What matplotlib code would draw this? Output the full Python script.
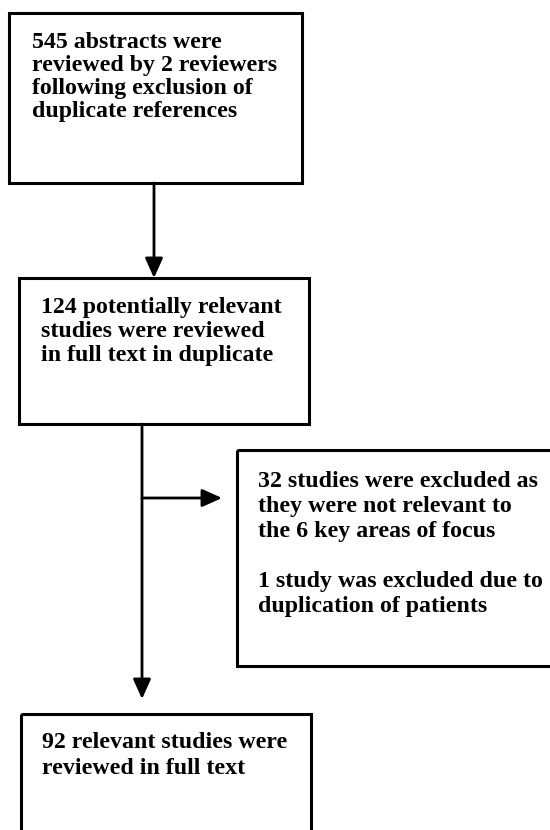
import matplotlib.pyplot as plt
from matplotlib.patches import Rectangle, FancyArrowPatch

# box texts, one entry per line ('' = blank line)
box1_lines = ['545 abstracts were',
              'reviewed by 2 reviewers',
              'following exclusion of',
              'duplicate references']
box2_lines = ['124 potentially relevant',
              'studies were reviewed',
              'in full text in duplicate']
box3_lines = ['32 studies were excluded as',
              'they were not relevant to',
              'the 6 key areas of focus',
              '',
              '1 study was excluded due to',
              'duplication of patients']
box4_lines = ['92 relevant studies were',
              'reviewed in full text']

# box geometry in pixels: (left, top, right, bottom)
boxes = [(9, 13, 302, 183),
         (19, 278, 309, 424),
         (237, 450, 560, 666),
         (21, 714, 311, 845)]
# text anchor: left x, first baseline y, line step
text_pos = [(32, 48, 23), (41, 313, 24), (258, 487, 25), (42, 748, 26)]

fig = plt.figure(figsize=(5.5, 8.3), dpi=100)
ax = fig.add_axes([0, 0, 1, 1])
ax.set_xlim(0, 550)
ax.set_ylim(830, 0)
ax.axis('off')

for (l, t, r, b) in boxes:
    ax.add_patch(Rectangle((l, t), r - l, b - t, fill=False,
                           edgecolor='black', lw=2.2, zorder=2))

for (x, y, step), lines in zip(text_pos, [box1_lines, box2_lines, box3_lines, box4_lines]):
    for i, s in enumerate(lines):
        ax.text(x, y + i * step, s, family='Liberation Serif',
                weight='bold', fontsize=17.2, va='baseline', ha='left',
                color='black', zorder=3)


def arrow(x0, y0, x1, y1):
    ax.add_patch(FancyArrowPatch((x0, y0), (x1, y1),
                                 arrowstyle='-|>,head_length=0.6,head_width=0.27',
                                 mutation_scale=20, lw=2, color='black',
                                 shrinkA=0, shrinkB=0, zorder=4))


arrow(154, 183, 154, 278)
arrow(142, 424, 142, 699)
arrow(142, 498, 222, 498)

fig.savefig('out.png', dpi=100, facecolor='white')
